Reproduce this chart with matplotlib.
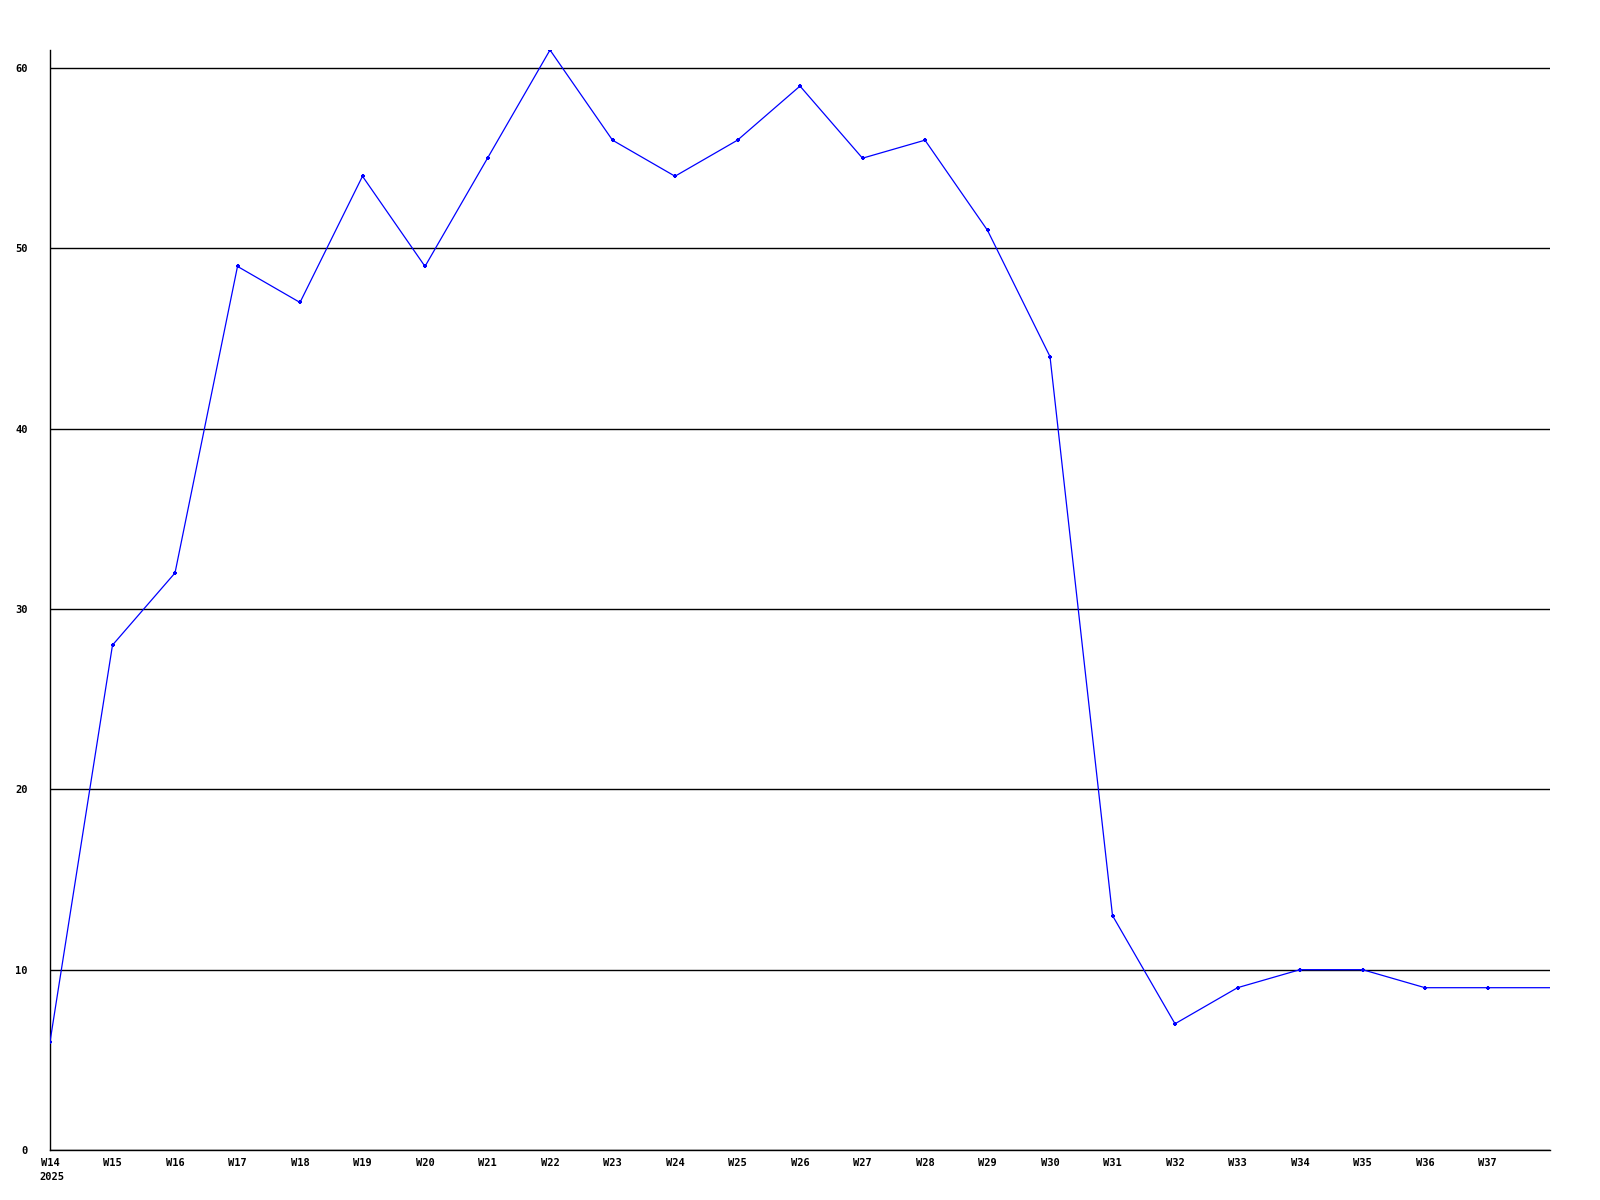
import matplotlib
matplotlib.use('Agg')
from matplotlib import pyplot as plt

weeks = ['W14', 'W15', 'W16', 'W17', 'W18', 'W19', 'W20', 'W21', 'W22', 'W23',
         'W24', 'W25', 'W26', 'W27', 'W28', 'W29', 'W30', 'W31', 'W32', 'W33',
         'W34', 'W35', 'W36', 'W37', 'W38']
values = [6, 28, 32, 49, 47, 54, 49, 55, 61, 56,
          54, 56, 59, 55, 56, 51, 44, 13, 7, 9,
          10, 10, 9, 9, 9]
year = '2025'
yticks = [0, 10, 20, 30, 40, 50, 60]

plt.rcParams['font.family'] = ['DejaVu Sans Mono']
plt.rcParams['font.weight'] = 'bold'

fig = plt.figure(figsize=(16, 12), dpi=100)
ax = fig.add_axes([50/1600, 50/1200, 1500/1600, 1100/1200])

x = list(range(len(weeks)))
ax.plot(x, values, color='#0000ff', linewidth=0.9, marker='+', markersize=3.5,
        markeredgewidth=1.5, markevery=list(range(len(weeks) - 1)), zorder=3)

ax.set_xlim(0, 24)
ax.set_ylim(0, 61)
ax.set_yticks(yticks)
ax.set_yticklabels([str(v) for v in yticks], fontsize=7.5, fontweight='bold')
ax.yaxis.grid(True, color='black', linewidth=1)
ax.set_axisbelow(True)

ax.set_xticks(x[:-1])
ax.set_xticklabels(weeks[:-1], fontsize=7.5, fontweight='bold')
ax.tick_params(length=0)
ax.tick_params(axis='y', pad=16)
ax.tick_params(axis='x', pad=6)
ax.annotate(year, xy=(0, 0), xycoords=('data', 'axes fraction'),
            xytext=(-8, -16), textcoords='offset points', fontsize=7.5,
            fontweight='bold', ha='left', va='top')

for s in ['top', 'right']:
    ax.spines[s].set_visible(False)
for s in ['left', 'bottom']:
    ax.spines[s].set_color('black')
    ax.spines[s].set_linewidth(1)

fig.savefig('out.png', dpi=100, facecolor='white')
